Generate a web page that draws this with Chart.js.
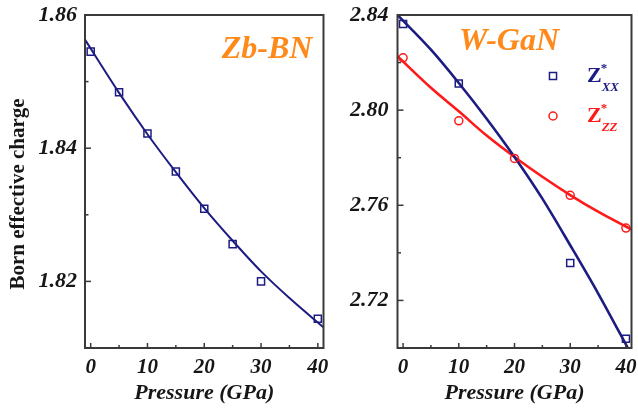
<!DOCTYPE html>
<html>
<head>
<meta charset="utf-8">
<script src="https://cdn.jsdelivr.net/npm/chart.js@4.4.1/dist/chart.umd.min.js"></script>
<style>
  body { margin: 0; background: #fff; }
  #page { position: relative; width: 638px; height: 415px; overflow: hidden; }
  .panel { position: absolute; top: 0; height: 415px; }
  #bnPanel { left: 0; width: 330px; }
  #ganPanel { left: 330px; width: 308px; }
</style>
</head>
<body>
<div id="page">
  <div class="panel" id="bnPanel"><canvas id="bnChart"></canvas></div>
  <div class="panel" id="ganPanel"><canvas id="ganChart"></canvas></div>
</div>
<script>
// ---------- data ----------
// Zb-BN: calculated charge and fitted curve
const bnPressure = [0, 5, 10, 15, 20, 25, 30, 40];
const bnCharge = [1.8545, 1.8484, 1.8422, 1.8365, 1.8309, 1.8256, 1.8200, 1.8144];
const bnFitPressure = [-1, 5, 10, 15, 20, 25, 30, 35, 41];
const bnFitCharge = [1.8563, 1.8483, 1.8421, 1.8364, 1.8310, 1.8261, 1.8215, 1.8175, 1.8131];

// W-GaN: Z*xx and Z*zz with their fitted curves
const ganXxPressure = [0, 10, 30, 40];
const ganXxCharge = [2.8362, 2.8112, 2.7357, 2.7039];
const ganZzPressure = [0, 10, 20, 30, 40];
const ganZzCharge = [2.8220, 2.7955, 2.7797, 2.7642, 2.7504];
const ganFitPressure = [-1, 5, 10, 15, 20, 25, 30, 35, 41];
const ganXxFit = [2.8400, 2.8254, 2.8114, 2.7964, 2.7803, 2.7628, 2.7432, 2.7230, 2.6971];
const ganZzFit = [2.8227, 2.8094, 2.7995, 2.7893, 2.7803, 2.7720, 2.7643, 2.7573, 2.7498];

// axis ticks
const pressureTicks = [0, 10, 20, 30, 40];
const pressureMinor = [5, 15, 25, 35];
const bnTicks = [1.82, 1.84, 1.86];
const bnMinor = [1.83, 1.85];
const ganTicks = [2.72, 2.76, 2.80, 2.84];
const ganMinor = [2.74, 2.78, 2.82];

// ---------- styles ----------
const NAVY = '#1c1c82';
const RED = '#ff1a1a';
const ORANGE = '#ff8a1c';
const INK = '#161616';
const FRAME = '#3a3a3a';
const SERIF = '"Liberation Serif", "DejaVu Serif", serif';

const toXY = (xs, ys) => xs.map((x, i) => ({ x, y: ys[i] }));

// frame, inward ticks, panel label, rotated y title and legend
const panelDecor = {
  id: 'panelDecor',
  afterDraw(chart, args, opts) {
    const { ctx, chartArea: a, scales } = chart;
    ctx.save();
    ctx.strokeStyle = FRAME;
    ctx.lineWidth = 2;
    ctx.lineCap = 'butt';
    ctx.strokeRect(a.left, a.top, a.right - a.left, a.bottom - a.top);

    const tickX = (vals, len) => vals.forEach(v => {
      const px = scales.x.getPixelForValue(v);
      ctx.beginPath(); ctx.moveTo(px, a.bottom); ctx.lineTo(px, a.bottom - len); ctx.stroke();
    });
    const tickY = (vals, len) => vals.forEach(v => {
      const py = scales.y.getPixelForValue(v);
      ctx.beginPath(); ctx.moveTo(a.left, py); ctx.lineTo(a.left + len, py); ctx.stroke();
    });
    ctx.lineWidth = 1.5;
    tickX(pressureTicks, 5);
    tickX(pressureMinor, 3);
    tickY(opts.yMajor, 6);
    tickY(opts.yMinor, 3.5);

    // panel name
    ctx.fillStyle = ORANGE;
    ctx.font = 'italic bold 32px ' + SERIF;
    ctx.textAlign = 'center';
    ctx.textBaseline = 'middle';
    ctx.fillText(opts.name, opts.nameX, opts.nameY);

    if (opts.yTitle) {
      ctx.save();
      ctx.translate(19, 194);
      ctx.rotate(-Math.PI / 2);
      ctx.fillStyle = INK;
      ctx.font = 'bold 21px ' + SERIF;
      ctx.fillText(opts.yTitle, 0, 0);
      ctx.restore();
    }

    (opts.legend || []).forEach(item => {
      ctx.strokeStyle = item.color;
      ctx.lineWidth = 1.5;
      ctx.beginPath();
      if (item.style === 'circle') {
        ctx.arc(item.x, item.y, item.radius, 0, Math.PI * 2);
      } else {
        const s = item.radius * Math.SQRT1_2;
        ctx.rect(item.x - s, item.y - s, 2 * s, 2 * s);
      }
      ctx.stroke();

      // Z with a star superscript and an italic subscript
      ctx.fillStyle = item.color;
      ctx.textAlign = 'left';
      ctx.textBaseline = 'alphabetic';
      ctx.font = 'bold 22px ' + SERIF;
      const tx = item.x + 34;
      const base = item.y + 6;
      ctx.fillText('Z', tx, base);
      const zw = ctx.measureText('Z').width;
      ctx.font = 'bold 13px ' + SERIF;
      ctx.fillText('*', tx + zw - 1, base - 10);
      ctx.font = 'italic bold 13px ' + SERIF;
      ctx.fillText(item.sub, tx + zw, base + 9);
    });
    ctx.restore();
  }
};

function xScale() {
  return {
    type: 'linear',
    min: -1,
    max: 41,
    afterBuildTicks: s => { s.ticks = pressureTicks.map(v => ({ value: v })); },
    afterFit: s => { s.height = 67; s.paddingLeft = 0; s.paddingRight = 0; },
    grid: { display: false, drawTicks: false },
    border: { display: false },
    ticks: {
      padding: 7,
      color: INK,
      font: { family: SERIF, size: 21, style: 'italic', weight: 'bold' },
      callback: v => String(v)
    },
    title: {
      display: true,
      text: 'Pressure (GPa)',
      color: INK,
      font: { family: SERIF, size: 22, style: 'italic', weight: 'bold' },
      padding: { top: 0, bottom: 8 }
    }
  };
}

function yScale(min, max, major, width, pad) {
  return {
    type: 'linear',
    min,
    max,
    afterBuildTicks: s => { s.ticks = major.map(v => ({ value: v })); },
    afterFit: s => { s.width = width; s.paddingTop = 0; s.paddingBottom = 0; },
    grid: { display: false, drawTicks: false },
    border: { display: false },
    ticks: {
      padding: pad,
      color: INK,
      font: { family: SERIF, size: 22, style: 'italic', weight: 'bold' },
      callback: v => v.toFixed(2)
    }
  };
}

function fitSet(xs, ys, color, width) {
  return {
    data: toXY(xs, ys),
    showLine: true,
    borderColor: color,
    borderWidth: width,
    pointRadius: 0,
    cubicInterpolationMode: 'monotone',
    clip: 0,
    order: 2
  };
}

function pointSet(xs, ys, color, style, radius) {
  return {
    data: toXY(xs, ys),
    showLine: false,
    pointStyle: style,
    pointRadius: radius,
    pointBorderWidth: 1.5,
    borderColor: color,
    backgroundColor: 'rgba(0,0,0,0)',
    clip: 0,
    order: 1
  };
}

const common = {
  responsive: true,
  maintainAspectRatio: false,
  animation: false,
  events: [],
  plugins: { legend: { display: false }, tooltip: { enabled: false } }
};

new Chart(document.getElementById('bnChart'), {
  type: 'scatter',
  data: {
    datasets: [
      fitSet(bnFitPressure, bnFitCharge, NAVY, 2),
      pointSet(bnPressure, bnCharge, NAVY, 'rect', 5)
    ]
  },
  options: {
    ...common,
    layout: { padding: { top: 15, right: 6, left: 0, bottom: 0 } },
    scales: { x: xScale(), y: yScale(1.81, 1.86, bnTicks, 85, 8) },
    plugins: {
      ...common.plugins,
      panelDecor: {
        name: 'Zb-BN', nameX: 267, nameY: 50,
        yMajor: bnTicks, yMinor: bnMinor,
        yTitle: 'Born effective charge'
      }
    }
  },
  plugins: [panelDecor]
});

new Chart(document.getElementById('ganChart'), {
  type: 'scatter',
  data: {
    datasets: [
      fitSet(ganFitPressure, ganXxFit, NAVY, 2.6),
      fitSet(ganFitPressure, ganZzFit, RED, 2.6),
      pointSet(ganXxPressure, ganXxCharge, NAVY, 'rect', 5),
      pointSet(ganZzPressure, ganZzCharge, RED, 'circle', 4)
    ]
  },
  options: {
    ...common,
    layout: { padding: { top: 15, right: 3, left: 0, bottom: 0 } },
    scales: { x: xScale(), y: yScale(2.70, 2.84, ganTicks, 67.5, 9) },
    plugins: {
      ...common.plugins,
      panelDecor: {
        name: 'W-GaN', nameX: 179, nameY: 42,
        yMajor: ganTicks, yMinor: ganMinor,
        legend: [
          { style: 'rect', radius: 5, x: 223, y: 76, color: NAVY, sub: 'XX' },
          { style: 'circle', radius: 4, x: 223, y: 116, color: RED, sub: 'ZZ' }
        ]
      }
    }
  },
  plugins: [panelDecor]
});
</script>
</body>
</html>
